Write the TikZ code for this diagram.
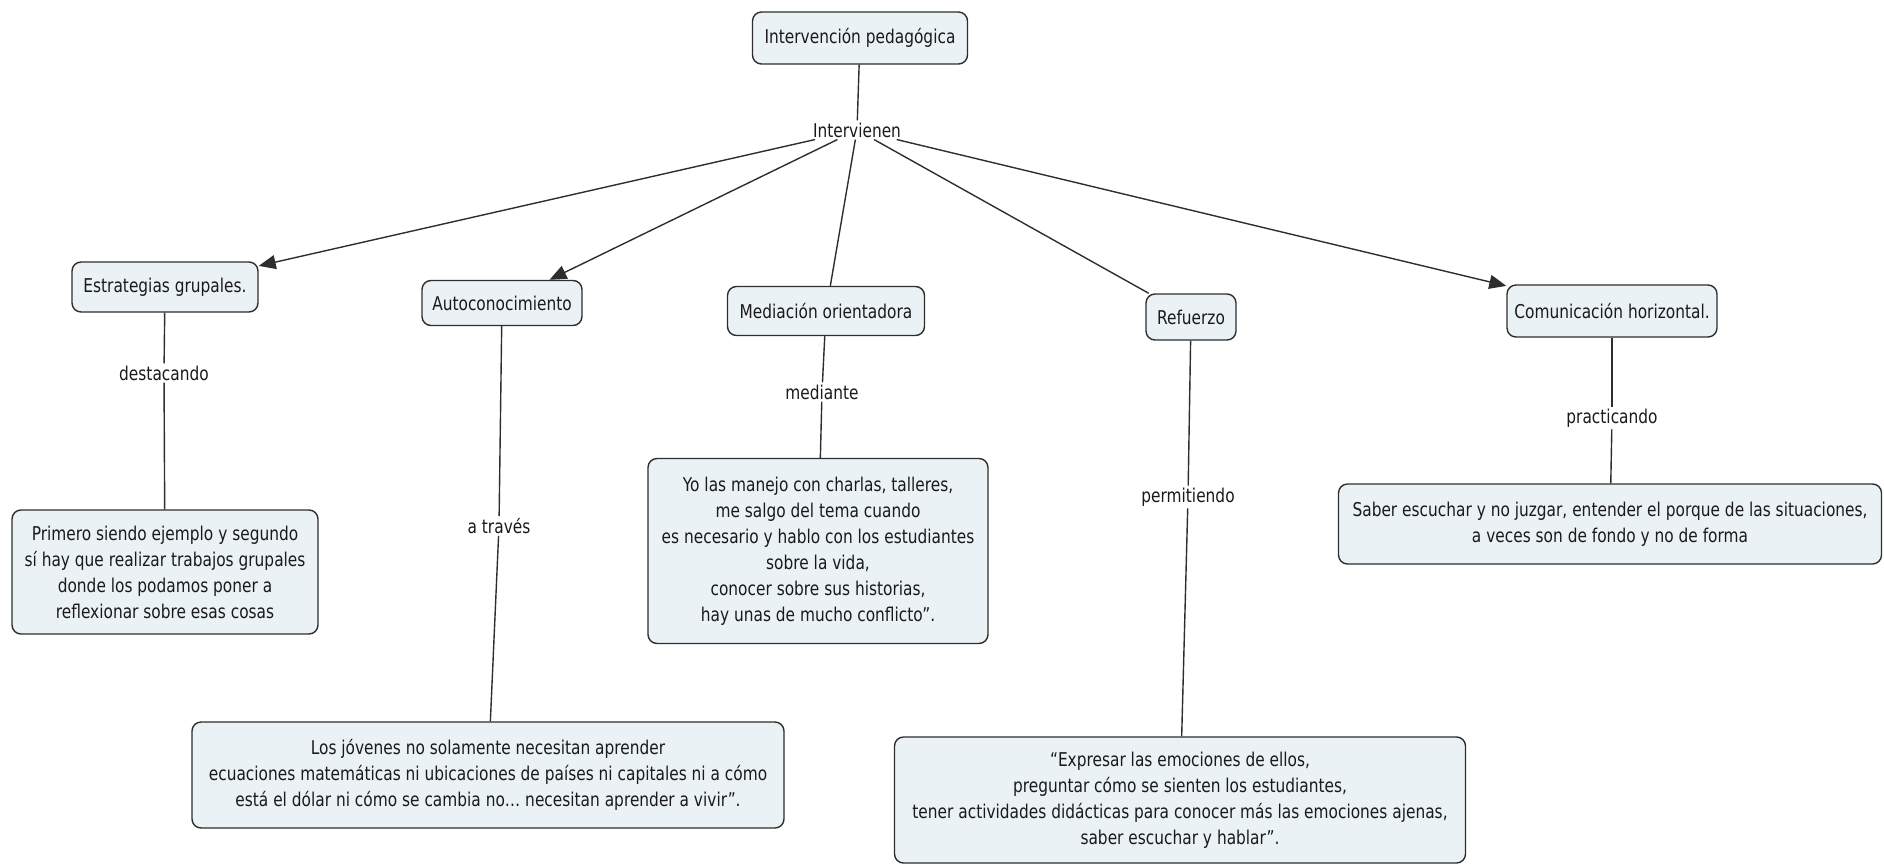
\documentclass[tikz,border=0pt]{standalone}
\usepackage{fontspec}
\setmainfont{DejaVu Sans}[FakeStretch=0.81]
\usetikzlibrary{arrows.meta}
\definecolor{boxfill}{HTML}{EBF2F5}
\definecolor{boxline}{HTML}{2E2E2E}
\definecolor{txt}{HTML}{1A1A1A}
\tikzset{
  concept/.style={draw=boxline, fill=boxfill, line width=1.4pt, rounded corners=9pt,
    align=center, font=\fontsize{19}{26}\selectfont, text=txt, inner sep=3pt},
  linklbl/.style={font=\fontsize{19}{26}\selectfont, text=txt, inner sep=2pt},
  conn/.style={draw=boxline, line width=1.4pt},
  arr/.style={conn, -{Triangle[length=17pt,width=14pt]}},
}
\begin{document}
\begin{tikzpicture}[x=1pt,y=-1pt]
\useasboundingbox (0,0) rectangle (1884,865);

% concepts
\node[concept, minimum width=215pt, minimum height=52pt] (ip) at (860,38) {Intervención pedagógica};
\node[concept, minimum width=186pt, minimum height=50pt] (estr) at (165,287) {Estrategias grupales.};
\node[concept, minimum width=160pt, minimum height=45pt] (auto) at (502,303) {Autoconocimiento};
\node[concept, minimum width=197pt, minimum height=49pt] (med) at (826,311) {Mediación orientadora};
\node[concept, minimum width=90pt, minimum height=46pt] (ref) at (1191,317) {Refuerzo};
\node[concept, minimum width=210pt, minimum height=52pt] (com) at (1612,311) {Comunicación horizontal.};

\node[concept, minimum width=306pt, minimum height=124pt] (prim) at (165,572)
  {Primero siendo ejemplo y segundo\\ sí hay que realizar trabajos grupales\\ donde los podamos poner a\\ reflexionar sobre esas cosas};
\node[concept, minimum width=592pt, minimum height=106pt] (jov) at (488,775)
  {Los jóvenes no solamente  necesitan aprender\\ ecuaciones matemáticas  ni ubicaciones de países ni capitales ni a cómo\\ está el dólar ni cómo se cambia no… necesitan aprender a vivir”.};
\node[concept, minimum width=340pt, minimum height=185pt] (yo) at (818,551)
  {Yo las manejo con charlas, talleres,\\ me salgo del tema cuando\\ es necesario y hablo con los estudiantes\\ sobre la vida,\\ conocer sobre sus historias,\\ hay unas de mucho conflicto”.};
\node[concept, minimum width=571pt, minimum height=126pt] (expr) at (1180,800)
  {“Expresar las emociones de ellos,\\ preguntar cómo se sienten los estudiantes,\\ tener actividades didácticas para conocer más las emociones ajenas,\\ saber escuchar y hablar”.};
\node[concept, minimum width=543pt, minimum height=80pt] (sab) at (1610,524)
  {Saber escuchar y no juzgar, entender el porque de las situaciones,\\ a veces son de fondo y no de forma};

% linking phrases
\node[linklbl] (intv) at (857,130) {Intervienen};
\node[linklbl] (dest) at (164,373) {destacando};
\node[linklbl] (trav) at (499,526) {a través};
\node[linklbl] (medi) at (822,392) {mediante};
\node[linklbl] (perm) at (1188,497) {permitiendo};
\node[linklbl] (prac) at (1612,418) {practicando};

% connectors
\draw[conn] (ip) -- (intv);
\draw[arr] (intv) -- (estr);
\draw[arr] (intv) -- (auto);
\draw[conn] (intv) -- (med);
\draw[conn] (intv) -- (ref);
\draw[arr] (intv) -- (com);

\draw[conn] (estr) -- (dest);
\draw[conn] (dest) -- (prim);
\draw[conn] (auto) -- (trav);
\draw[conn] (trav) -- (jov);
\draw[conn] (med) -- (medi);
\draw[conn] (medi) -- (yo);
\draw[conn] (ref) -- (perm);
\draw[conn] (perm) -- (expr);
\draw[conn] (com) -- (prac);
\draw[conn] (prac) -- (sab);
\end{tikzpicture}
\end{document}
